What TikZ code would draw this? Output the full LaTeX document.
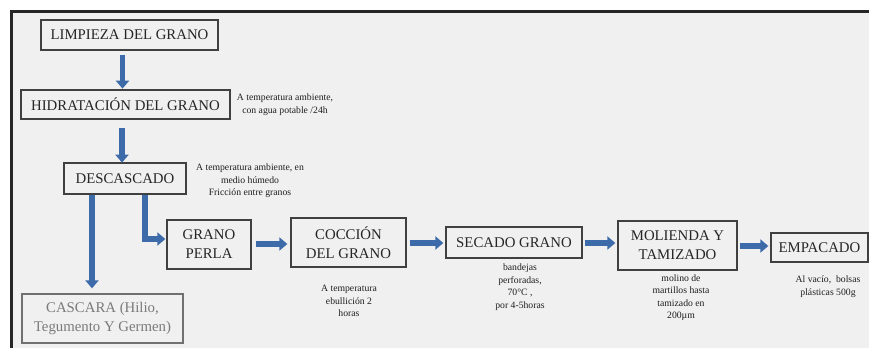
\documentclass[tikz,border=0pt]{standalone}
\usepackage{fontspec}
\setmainfont{Liberation Serif}
\usetikzlibrary{arrows.meta,calc}
\definecolor{bg}{HTML}{F0F0F0}
\definecolor{frameclr}{HTML}{262626}
\definecolor{boxline}{HTML}{404040}
\definecolor{grayline}{HTML}{707070}
\definecolor{graytext}{HTML}{7A7A7A}
\definecolor{arrowblue}{HTML}{3D6BAA}
\tikzset{
  procbox/.style={draw=boxline, line width=1.3pt, fill=bg, inner sep=0pt, align=center,
    font=\fontsize{14.8}{19}\selectfont, text=black!85},
  graybox/.style={procbox, draw=grayline, text=graytext},
  note/.style={align=center, inner sep=0pt, font=\fontsize{9.7}{12.5}\selectfont, text=black!88},
  flow/.style={draw=arrowblue, line width=5.5pt, -{Triangle[width=13pt,length=8pt]}}
}
\begin{document}
\begin{tikzpicture}[x=1pt,y=-1pt]
\useasboundingbox (0,0) rectangle (869,348);
\fill[white] (0,0) rectangle (869,348);
\fill[bg] (12,12) rectangle (869,348);
\draw[frameclr, line width=2.5pt] (11.5,348) -- (11.5,11.5) -- (869,11.5);

\node[procbox, minimum width=177pt, minimum height=30pt] (limp) at (129.5,35) {LIMPIEZA DEL GRANO};
\node[procbox, minimum width=209pt, minimum height=29pt] (hidr) at (125.5,104.5) {HIDRATACIÓN DEL GRANO};
\node[procbox, minimum width=122pt, minimum height=31pt] (desc) at (125,178.5) {DESCASCADO};
\node[graybox, minimum width=161pt, minimum height=49pt] (casc) at (102.5,318.5) {CASCARA (Hilio,\\Tegumento Y Germen)};
\node[procbox, minimum width=84pt, minimum height=49pt] (perla) at (209,244.5) {GRANO\\PERLA};
\node[procbox, minimum width=115pt, minimum height=49pt] (cocc) at (348.5,242.5) {COCCIÓN\\DEL GRANO};
\node[procbox, minimum width=136pt, minimum height=31pt] (seca) at (514,242.5) {SECADO GRANO};
\node[procbox, minimum width=119pt, minimum height=49pt] (mol) at (677.5,245.5) {MOLIENDA Y\\TAMIZADO};
\node[procbox, minimum width=97pt, minimum height=29pt] (emp) at (819.5,247.5) {EMPACADO};

\node[note] (nhidr) at (285,104.5) {A temperatura ambiente,\\con agua potable /24h};
\node[note] (ndesc) at (250,181) {A temperatura ambiente, en\\medio húmedo\\Fricción entre granos};
\node[note] (ncocc) at (349,301) {A temperatura\\ebullición 2\\horas};
\node[note] (nseca) at (520,287) {bandejas\\perforadas,\\70°C ,\\por 4-5horas};
\node[note] (nmol) at (681,297.5) {molino de\\martillos hasta\\tamizado en\\200µm};
\node[note] (nemp) at (828,286.5) {Al vacío,\enspace bolsas\\plásticas 500g};

\coordinate (bend) at (145,239);
\draw[flow] ($(limp.south)+(-7,4)$) -- ($(limp.south)+(-7,38)$);
\draw[flow] ($(hidr.south)+(-3.5,8)$) -- ($(hidr.south)+(-3.5,43)$);
\draw[flow] (desc.south -| 92,0) -- ($(casc.north -| 92,0)+(0,-5)$);
\draw[flow, line join=miter] (desc.south -| bend) -- (bend) -- ($(perla.west |- bend)+(-1,0)$);
\draw[flow] ($(perla.east)+(4,-0.5)$) -- ($(cocc.west |- perla.east)+(-3,-0.5)$);
\draw[flow] ($(cocc.east)+(3,0.5)$) -- ($(seca.west)+(-2,0.5)$);
\draw[flow] ($(seca.east)+(2,0.5)$) -- ($(mol.west)+(-2,-2.5)$);
\draw[flow] ($(mol.east)+(2,0.5)$) -- ($(emp.west)+(-2,-1.5)$);
\end{tikzpicture}
\end{document}
